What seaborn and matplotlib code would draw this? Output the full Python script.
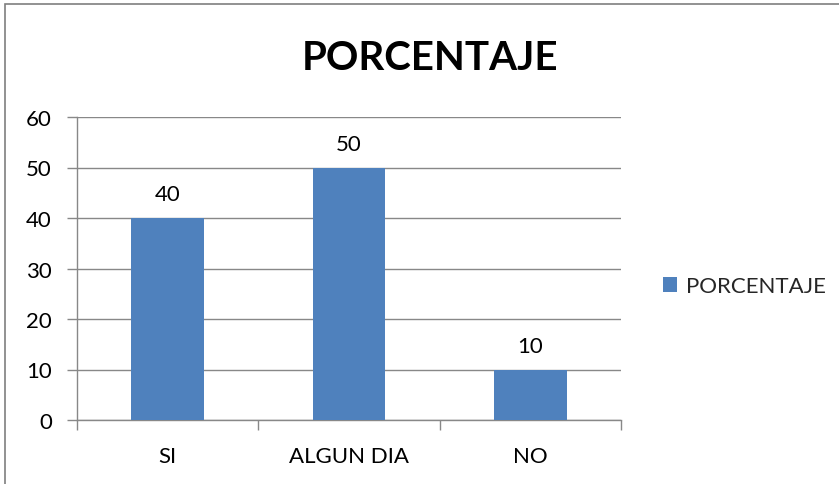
import matplotlib
matplotlib.use("Agg")
import matplotlib.pyplot as plt
import seaborn as sns
import pandas as pd
from matplotlib.patches import Patch, Rectangle

categories = ["SI", "ALGUN DIA", "NO"]
values = [40, 50, 10]
series_name = "PORCENTAJE"
title = "PORCENTAJE"
yticks = [0, 10, 20, 30, 40, 50, 60]

sns.set_theme(style="white")
plt.rcParams["font.family"] = ["Lato", "DejaVu Sans"]

df = pd.DataFrame({"cat": categories, "val": values})

fig = plt.figure(figsize=(8.39, 4.85), dpi=100)
ax = fig.add_axes([77/839, 1-421/485, (621-77)/839, (421-118)/485])

bar_color = "#4F81BD"
grid_color = "#888888"

sns.barplot(data=df, x="cat", y="val", color=bar_color, width=0.4,
            saturation=1, ax=ax, zorder=3, linewidth=0, edgecolor="none")

ax.set_xlim(-0.5, len(categories) - 0.5)
ax.set_ylim(0, 60)
ax.set_yticks(yticks)
ax.set_yticklabels([str(t) for t in yticks], fontsize=16, color="#000000")
ax.set_xticklabels(categories, fontsize=16, color="#000000")
ax.set_xlabel("")
ax.set_ylabel("")

ax.yaxis.grid(True, color=grid_color, linewidth=1.0, zorder=0)
ax.set_axisbelow(True)

for s in ["top", "right"]:
    ax.spines[s].set_visible(False)
for s in ["left", "bottom"]:
    ax.spines[s].set_color(grid_color)
    ax.spines[s].set_linewidth(1.0)

ax.tick_params(axis="y", which="major", direction="out", length=7, width=1,
               color=grid_color, left=True, pad=11)
ax.tick_params(axis="x", which="major", length=0, pad=19)
ax.set_xticks([-0.5, 0.5, 1.5, 2.5], minor=True)
ax.tick_params(axis="x", which="minor", direction="out", length=7, width=1,
               color=grid_color, bottom=True)

for i, v in enumerate(values):
    ax.annotate(str(v), (i, v), xytext=(0, 10), textcoords="offset points",
                ha="center", va="bottom", fontsize=16, color="#000000")

fig.text(0.5 * (305 + 555) / 839, 1 - 58/485, title, ha="center", va="center",
         fontsize=29, fontweight="bold", color="#000000")

handle = Patch(facecolor=bar_color, edgecolor="none", label=series_name)
fig.legend(handles=[handle], loc="center left",
           bbox_to_anchor=(643/839, 1 - 287/485), frameon=False,
           fontsize=16, handlelength=0.65, handleheight=0.65, handletextpad=0.4)

border = Rectangle((5/839, -0.1), 1.2, 1 - 5/485 + 0.1, transform=fig.transFigure,
                   fill=False, edgecolor="#7f7f7f", linewidth=1.2, clip_on=False)
fig.patches.append(border)

fig.savefig("out.png", dpi=100, facecolor="white")
